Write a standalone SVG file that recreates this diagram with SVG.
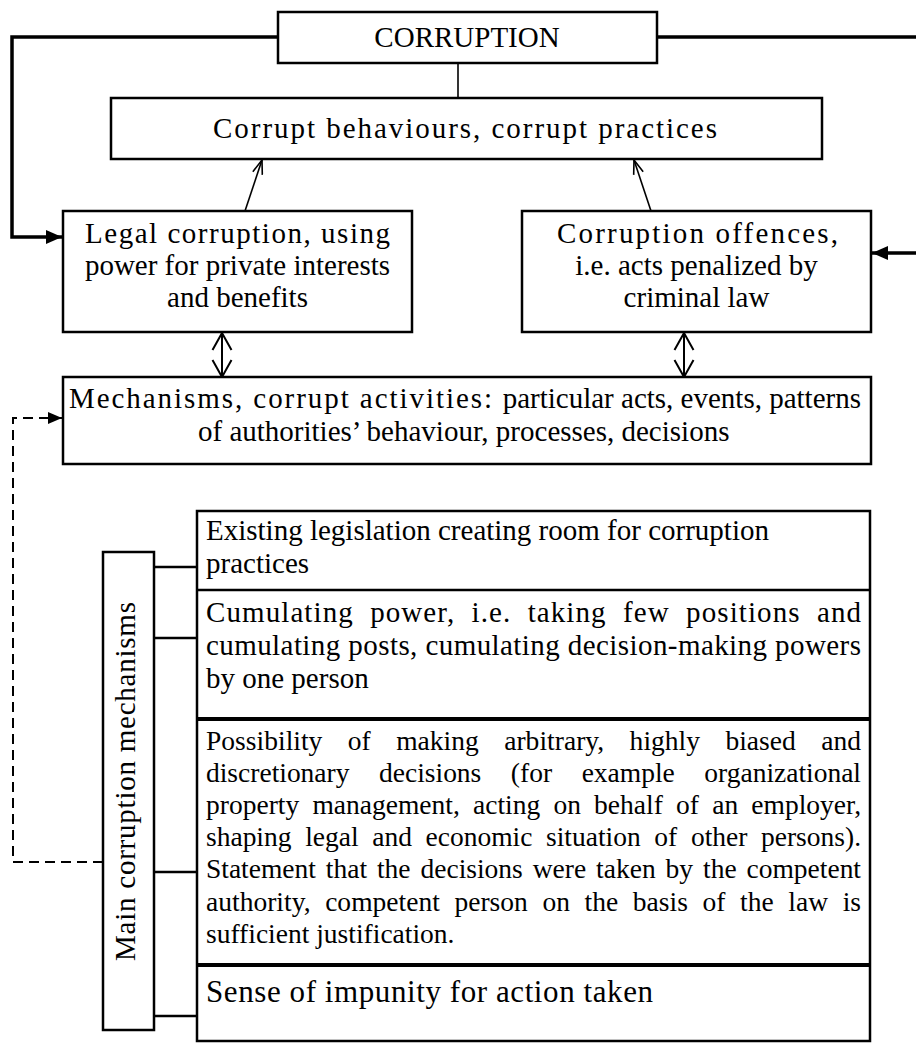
<svg xmlns="http://www.w3.org/2000/svg" width="916" height="1044" viewBox="0 0 916 1044">
<style>
.box{fill:#fff;stroke:#000;stroke-width:2.5}
.t{font-family:"Liberation Serif","Times New Roman",serif;font-size:29px;fill:#000}
.t3{font-family:"Liberation Serif","Times New Roman",serif;font-size:27.5px;fill:#000}
.t4{font-family:"Liberation Serif","Times New Roman",serif;font-size:31px;fill:#000}
.mid{text-anchor:middle}
.thick{fill:none;stroke:#000;stroke-width:3.5}
.thin{fill:none;stroke:#000;stroke-width:1.6}
.dbl{fill:none;stroke:#000;stroke-width:2}
.dash{fill:none;stroke:#000;stroke-width:2;stroke-dasharray:10 6}
.div{stroke:#000;stroke-width:2.5}
.divb{stroke:#000;stroke-width:4}
</style>
<defs>
<marker id="fillHead" viewBox="0 0 16 14" refX="16" refY="7" markerWidth="16" markerHeight="14" markerUnits="userSpaceOnUse" orient="auto"><path d="M0,0 L16,7 L0,14 Z" fill="#000"/></marker>
<marker id="fillSmall" viewBox="0 0 14 12" refX="14" refY="6" markerWidth="14" markerHeight="12" markerUnits="userSpaceOnUse" orient="auto"><path d="M0,0 L14,6 L0,12 Z" fill="#000"/></marker>
<marker id="openSmall" viewBox="0 0 16 12" refX="15" refY="6" markerWidth="16" markerHeight="12" markerUnits="userSpaceOnUse" orient="auto"><path d="M1,1 L15,6 L1,11" fill="none" stroke="#000" stroke-width="1.6"/></marker>
<marker id="openBig" viewBox="0 0 19 22" refX="18" refY="11" markerWidth="19" markerHeight="22" markerUnits="userSpaceOnUse" orient="auto-start-reverse"><path d="M1,1.5 L18,11 L1,20.5" fill="none" stroke="#000" stroke-width="2"/></marker>
</defs>
<rect width="916" height="1044" fill="#fff"/>

<g id="connectors">
<path class="thick" d="M278,37 H12 V237 H62" marker-end="url(#fillHead)"/>
<path class="thick" d="M657,37 H930 V253 H872" marker-end="url(#fillHead)"/>
<line class="thin" x1="458" y1="58" x2="458" y2="107"/>
<line class="thin" x1="245" y1="211" x2="262" y2="160" marker-end="url(#openSmall)"/>
<line class="thin" x1="651" y1="211" x2="634" y2="160" marker-end="url(#openSmall)"/>
<line class="dbl" x1="222" y1="377" x2="222" y2="333" marker-start="url(#openBig)" marker-end="url(#openBig)"/>
<line class="dbl" x1="684" y1="377" x2="684" y2="333" marker-start="url(#openBig)" marker-end="url(#openBig)"/>
<path class="dash" d="M103,862 H13 V418 H62" marker-end="url(#fillSmall)"/>
<line class="div" x1="154" y1="567" x2="197" y2="567"/>
<line class="div" x1="154" y1="638" x2="197" y2="638"/>
<line class="div" x1="154" y1="872" x2="197" y2="872"/>
<line class="div" x1="154" y1="1016" x2="197" y2="1016"/>
</g>

<g id="corruption">
<rect class="box" x="278" y="12" width="379" height="51"/>
<text class="t mid" x="467" y="47">CORRUPTION</text>
</g>

<g id="behaviours">
<rect class="box" x="111" y="98" width="711" height="61"/>
<text class="t" x="213" y="138" textLength="504" lengthAdjust="spacing">Corrupt behaviours, corrupt practices</text>
</g>

<g id="legal">
<rect class="box" x="63" y="211" width="349" height="121"/>
<text class="t" x="85" y="243" textLength="305" lengthAdjust="spacing">Legal corruption, using</text>
<text class="t mid" x="237.5" y="275">power for private interests</text>
<text class="t mid" x="237.5" y="307">and benefits</text>
</g>

<g id="offences">
<rect class="box" x="522" y="211" width="349" height="121"/>
<text class="t" x="557" y="243" textLength="281" lengthAdjust="spacing">Corruption offences,</text>
<text class="t mid" x="696.5" y="275">i.e. acts penalized by</text>
<text class="t mid" x="696.5" y="307">criminal law</text>
</g>

<g id="mechanisms">
<rect class="box" x="63" y="377" width="808" height="87"/>
<text class="t" x="69" y="408" textLength="423" lengthAdjust="spacing">Mechanisms, corrupt activities:</text>
<text class="t" x="861" y="408" text-anchor="end">particular acts, events, patterns</text>
<text class="t" x="198" y="441">of authorities’ behaviour, processes, decisions</text>
</g>

<g id="label">
<rect class="box" x="103" y="552" width="51" height="478"/>
<text class="t mid" transform="translate(135,781.5) rotate(-90)" x="0" y="0" textLength="359" lengthAdjust="spacing">Main corruption mechanisms</text>
</g>

<g id="items">
<rect class="box" x="197" y="511" width="673" height="530"/>
<line class="div" x1="197" y1="590" x2="870" y2="590"/>
<line class="divb" x1="197" y1="719" x2="870" y2="719"/>
<line class="divb" x1="197" y1="965" x2="870" y2="965"/>
</g>

<g id="item1">
<text class="t" x="206" y="540">Existing legislation creating room for corruption</text>
<text class="t" x="206" y="573">practices</text>
</g>

<g id="item2">
<text class="t" x="206" y="622" textLength="655" lengthAdjust="spacing" style="word-spacing:8px">Cumulating power, i.e. taking few positions and</text>
<text class="t" x="206" y="655" textLength="655" lengthAdjust="spacing">cumulating posts, cumulating decision-making powers</text>
<text class="t" x="206" y="688">by one person</text>
</g>

<g id="item3">
<text class="t3" x="206" y="750" textLength="655" lengthAdjust="spacing" style="word-spacing:18.5px">Possibility of making arbitrary, highly biased and</text>
<text class="t3" x="206" y="782" textLength="655" lengthAdjust="spacing" style="word-spacing:22.7px">discretionary decisions (for example organizational</text>
<text class="t3" x="206" y="814" textLength="655" lengthAdjust="spacing" style="word-spacing:6.3px">property management, acting on behalf of an employer,</text>
<text class="t3" x="206" y="846" textLength="655" lengthAdjust="spacing" style="word-spacing:6.8px">shaping legal and economic situation of other persons).</text>
<text class="t3" x="206" y="878" textLength="655" lengthAdjust="spacing" style="word-spacing:3.1px">Statement that the decisions were taken by the competent</text>
<text class="t3" x="206" y="911" textLength="655" lengthAdjust="spacing" style="word-spacing:7.7px">authority, competent person on the basis of the law is</text>
<text class="t3" x="206" y="943">sufficient justification.</text>
</g>

<g id="item4">
<text class="t4" x="206" y="1002" textLength="447" lengthAdjust="spacing">Sense of impunity for action taken</text>
</g>
</svg>
